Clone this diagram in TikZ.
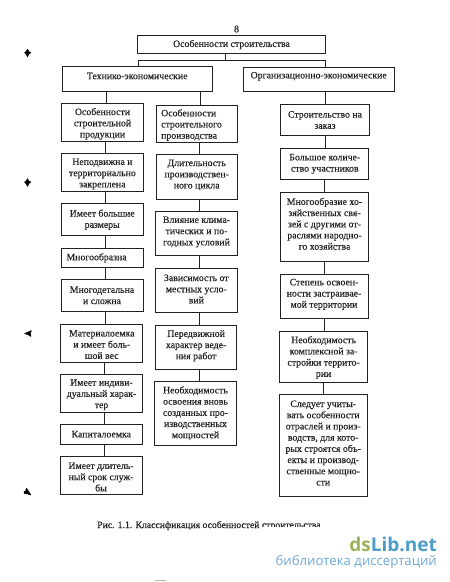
\documentclass[tikz,border=0pt]{standalone}
\usepackage{fontspec}
\setmainfont[FakeBold=0.25]{Liberation Serif}
\newfontfamily\wmfont{Open Sans}
\definecolor{ink}{HTML}{222222}
\definecolor{wmgreen}{HTML}{9DB35A}
\definecolor{wmblue}{HTML}{4A9CC9}
\definecolor{wmlight}{HTML}{6FA9D6}
\newcommand{\liftc}[2]{\raisebox{#1}[\height][\depth]{\parbox{80pt}{\centering #2}}}
\newcommand{\liftl}[2]{\raisebox{#1}[\height][\depth]{\parbox{71pt}{\raggedright #2}}}
\tikzset{
  boxn/.style={draw=ink,line width=0.8pt,align=center,inner sep=0pt,font=\fontsize{9.8}{11.2}\selectfont,text=ink},
  link/.style={draw=ink,line width=0.8pt},
  spot/.style={fill=black,draw=black,line width=0.4pt,line join=round}
}
\begin{document}
\begin{tikzpicture}[x=1pt,y=-1pt]
\useasboundingbox (0,0) rectangle (450,582);
\fill[white] (0,0) rectangle (450,582);
\node[font=\fontsize{10}{11}\selectfont,text=ink] (pg) at (236.5,29) {8};
\node[boxn,minimum width=188pt,minimum height=18.5pt] (T) at (231.5,44.5) {Особенности строительства};
\node[boxn,minimum width=150.5pt,minimum height=25pt] (L) at (137.2,79) {\raisebox{3pt}[\height][\depth]{Технико-экономические}};
\node[boxn,minimum width=150.5pt,minimum height=24.5pt] (R) at (318.7,79.2) {\raisebox{3pt}[\height][\depth]{Организационно-экономические}};
% column 1
\node[boxn,minimum width=82pt,minimum height=38pt] (a1) at (102.5,122) {\liftc{-1.8pt}{Особенности\\строительной\\продукции}};
\node[boxn,minimum width=82pt,minimum height=38pt] (a2) at (102.4,172.5) {\liftc{-1.5pt}{Неподвижна и\\территориально\\закреплена}};
\node[boxn,minimum width=82pt,minimum height=32pt] (a3) at (102.2,219.7) {Имеет большие\\размеры};
\node[boxn,minimum width=82pt,minimum height=19pt,text width=71pt,align=left] (a4) at (102,257.8) {Многообразна};
\node[boxn,minimum width=82pt,minimum height=32pt] (a5) at (102,295.3) {Многодетальна\\и сложна};
\node[boxn,minimum width=82pt,minimum height=38pt] (a6) at (101.8,343) {\liftc{-1.5pt}{Материалоемка\\и имеет боль-\\шой вес}};
\node[boxn,minimum width=82pt,minimum height=38pt] (a7) at (101.5,393.3) {\liftc{-1.4pt}{Имеет индиви-\\дуальный харак-\\тер}};
\node[boxn,minimum width=82pt,minimum height=19.7pt] (a8) at (101.3,434.2) {Капиталоемка};
\node[boxn,minimum width=82pt,minimum height=38pt] (a9) at (101,475.3) {\liftc{-1.7pt}{Имеет длитель-\\ный срок служ-\\бы}};
% column 2
\node[boxn,minimum width=81.5pt,minimum height=37.5pt] (b1) at (196.7,123.7) {\liftl{-1.3pt}{Особенности\\строительного\\производства}};
\node[boxn,minimum width=81.5pt,minimum height=44.5pt] (b2) at (196.7,176.7) {\liftc{1.7pt}{Длительность\\производствен-\\ного цикла}};
\node[boxn,minimum width=81.5pt,minimum height=44pt] (b3) at (196.5,233.7) {\liftc{1.7pt}{Влияние клима-\\тических и по-\\годных условий}};
\node[boxn,minimum width=81.5pt,minimum height=43.6pt] (b4) at (196.3,290.5) {\liftc{1.5pt}{Зависимость от\\местных усло-\\вий}};
\node[boxn,minimum width=81.5pt,minimum height=44.3pt] (b5) at (196.1,347.2) {\liftc{1.5pt}{Передвижной\\характер веде-\\ния работ}};
\node[boxn,minimum width=81.5pt,minimum height=63.3pt] (b6) at (195.5,413.3) {Необходимость\\освоения вновь\\созданных про-\\изводственных\\мощностей};
% column 3
\node[boxn,minimum width=88.5pt,minimum height=31pt] (c1) at (325,120) {Строительство на\\заказ};
\node[boxn,minimum width=88pt,minimum height=31.5pt] (c2) at (324.8,163.8) {Большое количе-\\ство участников};
\node[boxn,minimum width=88pt,minimum height=69.7pt] (c3) at (324.5,226.8) {\liftc{3pt}{Многообразие хо-\\зяйственных свя-\\зей с другими от-\\раслями народно-\\го хозяйства}};
\node[boxn,minimum width=88pt,minimum height=44pt] (c4) at (324,296) {\liftc{1.7pt}{Степень освоен-\\ности застраивае-\\мой территории}};
\node[boxn,minimum width=88pt,minimum height=50.7pt] (c5) at (323.6,356.7) {\liftc{-0.8pt}{Необходимость\\комплексной за-\\стройки террито-\\рии}};
\node[boxn,minimum width=88.5pt,minimum height=101.3pt] (c6) at (323.2,445.3) {\liftc{2.3pt}{Следует учиты-\\вать особенности\\отраслей и произ-\\водств, для кото-\\рых строятся объ-\\екты и производ-\\ственные мощно-\\сти}};
% connectors
\coordinate (busL) at (138,60);
\coordinate (busR) at (325,60);
\draw[link] (busL |- L.north) -- (busL) -- (busR) -- (busR |- R.north);
\draw[link] ([xshift=-6.5pt]T.south) -- ([xshift=-6.5pt]T.south |- busL);
\draw[link] ([xshift=3.5pt]a1.north) -- ([xshift=3.5pt]a1.north |- L.south);
\draw[link] ([xshift=3.3pt]b1.north) -- ([xshift=3.3pt]b1.north |- L.south);
\draw[link] (c1.north) -- (c1.north |- R.south);
\foreach \u/\v in {a1/a2,a2/a3,a3/a4,a4/a5,a5/a6,a6/a7,a7/a8,a8/a9}
  \draw[link] ([xshift=3pt]\u.south) -- ([xshift=3pt]\u.south |- \v.north);
\foreach \u/\v in {b1/b2,b2/b3,b3/b4,b4/b5,b5/b6}
  \draw[link] ([xshift=3pt]\u.south) -- ([xshift=3pt]\u.south |- \v.north);
\foreach \u/\v in {c1/c2,c2/c3,c3/c4,c4/c5,c5/c6}
  \draw[link] (\u.south) -- (\u.south |- \v.north);
% margin marks
\filldraw[spot] (27.5,49) -- (28.8,51.5) -- (31,52.7) -- (29,54) -- (27.5,57) -- (26,54) -- (24.5,52.7) -- (26,51.5) -- cycle;
\filldraw[spot] (27.5,178.5) -- (28.8,181) -- (31,182) -- (29,183.5) -- (27.5,186.5) -- (26,183.5) -- (24.5,182) -- (26,181) -- cycle;
\filldraw[spot] (24.5,333.5) -- (31.5,330.5) -- (30.5,333) -- (31,336.5) -- (28.5,335) -- cycle;
\filldraw[spot] (26.5,488) -- (28.5,491) -- (31,495) -- (27.5,494) -- (24,493.5) -- (24,491.5) -- (25.5,491) -- cycle;
% caption
\node[font=\fontsize{9.7}{11}\selectfont,text=ink,anchor=base west,inner sep=0pt] (cap) at (97,528) {Рис. 1.1. Классификация особенностей строительства};
\fill[white] (259,526.5) rectangle (330,532);
% watermark
\node[font=\wmfont\bfseries\fontsize{19}{20}\selectfont,anchor=base east,inner sep=0pt] (wm) at (437,551) {\textcolor{wmgreen}{ds}\textcolor{wmblue}{Lib.net}};
\node[font=\wmfont\fontsize{13.2}{14}\selectfont,text=wmlight,anchor=base east,inner sep=0pt] (wms) at (437,565) {библиотека диссертаций};
\fill[gray!60] (155,579.5) rectangle (166,580.5);
\end{tikzpicture}
\end{document}
